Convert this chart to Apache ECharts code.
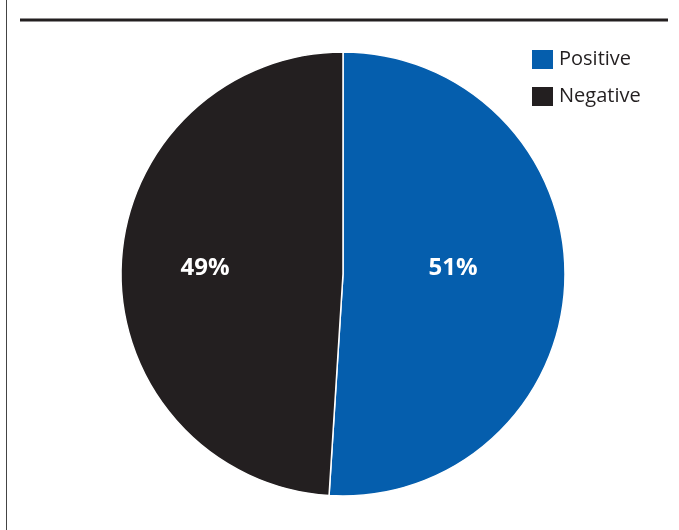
<!DOCTYPE html>
<html>
<head>
<meta charset="utf-8">
<script src="https://cdn.jsdelivr.net/npm/echarts@6/dist/echarts.min.js"></script>
<style>
  html, body { margin: 0; padding: 0; background: #fff; }
  #chart { width: 679px; height: 530px; }
</style>
</head>
<body>
<div id="chart"></div>
<script>
var categories = ['Positive', 'Negative'];
var values = [51, 49];
var colors = ['#055ead', '#231f20'];

var myChart = echarts.init(document.getElementById('chart'));
var option = {
    animation: false,
    graphic: [
        // left frame line
        { type: 'line', shape: { x1: 6.5, y1: 0, x2: 6.5, y2: 530 }, style: { stroke: '#444', lineWidth: 1 } },
        // rule under the title
        { type: 'line', shape: { x1: 20, y1: 20, x2: 668, y2: 20 }, style: { stroke: '#231f20', lineWidth: 3 } }
    ],
    legend: {
        data: categories,
        orient: 'vertical',
        left: 525,
        top: 43,
        itemWidth: 23,
        itemHeight: 21,
        itemGap: 14,
        icon: 'rect',
        textStyle: { fontFamily: 'Open Sans', fontSize: 20, color: '#231f20', padding: [0, 0, 0, 0] }
    },
    series: [{
        type: 'pie',
        center: [343, 274],
        radius: [0, 222],
        startAngle: 90,
        clockwise: true,
        label: {
            show: true,
            position: 'inside',
            formatter: '{c}%',
            color: '#fff',
            fontFamily: 'Open Sans',
            fontWeight: 'bold',
            fontSize: 24
        },
        // keep both labels on one horizontal line, as in the original
        labelLayout: function(params) {
            return { y: 268, x: params.dataIndex === 0 ? 453 : 205, align: 'center', verticalAlign: 'middle' };
        },
        labelLine: { show: false },
        itemStyle: { borderColor: '#fff', borderWidth: 1.5 },
        emphasis: { disabled: true },
        data: categories.map(function(name, i) {
            return { name: name, value: values[i], itemStyle: { color: colors[i] } };
        })
    }]
};
myChart.setOption(option);
</script>
</body>
</html>
